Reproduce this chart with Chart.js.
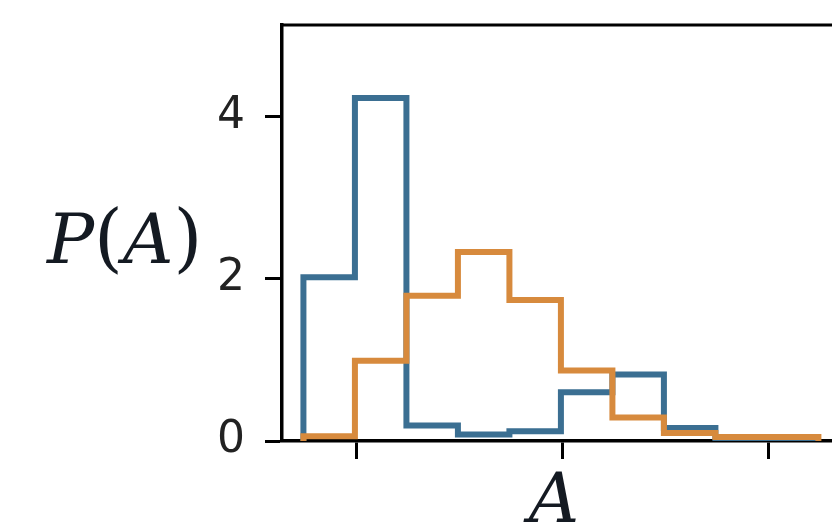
<!DOCTYPE html>
<html>
<head>
<meta charset="utf-8">
<script src="https://cdn.jsdelivr.net/npm/chart.js@4"></script>
<style>
  html, body { margin: 0; padding: 0; background: #fff; overflow: hidden; }
</style>
</head>
<body>
<canvas id="hist" width="832" height="525"></canvas>
<script>
const ctxHist = document.getElementById("hist");

// bordes de los bins (unidad = distancia entre ticks del eje x)
const binEdges = [0.74, 0.99, 1.24, 1.49, 1.74, 1.99, 2.24, 2.49, 2.74, 2.99, 3.24];
// alturas de cada bin (densidad)
const blueHeights = [2.02, 4.23, 0.19, 0.08, 0.12, 0.60, 0.82, 0.16, 0.0, 0.0];
const orangeHeights = [0.06, 0.99, 1.79, 2.33, 1.74, 0.87, 0.29, 0.10, 0.05, 0.05];
const yTicks = [0, 2, 4];
const xTicks = [1, 2, 3];

// convierte alturas a puntos de un histograma tipo "step"
function stepPoints(edges, heights) {
  const pts = [{ x: edges[0], y: 0 }];
  heights.forEach((h, i) => pts.push({ x: edges[i], y: h }));
  pts.push({ x: edges[edges.length - 1], y: 0 });
  return pts;
}

// borde superior del eje + etiquetas P(A) y A
const extras = {
  id: "extras",
  afterDraw(chart) {
    const c = chart.ctx;
    const a = chart.chartArea;
    c.save();
    c.strokeStyle = "#000";
    c.lineWidth = 3;
    c.beginPath();
    c.moveTo(a.left - 1.5, a.top);
    c.lineTo(a.right, a.top);
    c.stroke();

    c.fillStyle = "#141a22";
    c.textAlign = "left";
    c.textBaseline = "alphabetic";
    // P(A) estilo mathtext: letras en cursiva, paréntesis rectos
    const italic = "italic 70px 'DejaVu Serif'";
    const upright = "74px 'DejaVu Serif'";
    const parts = [["P", italic], ["(", upright], ["A", italic], [")", upright]];
    let x = 47;
    parts.forEach(([t, f]) => {
      c.font = f;
      c.fillText(t, x, 263);
      x += c.measureText(t).width;
    });

    c.font = italic;
    c.textAlign = "center";
    c.fillText("A", 554, 522);
    c.restore();
  },
};

const configHist = {
  type: "line",
  data: {
    datasets: [
      {
        label: "orange",
        data: stepPoints(binEdges, orangeHeights),
        borderColor: "#d78a3d",
        borderWidth: 6,
        stepped: true,
        pointRadius: 0,
        fill: false,
        order: 0,
      },
      {
        label: "blue",
        data: stepPoints(binEdges, blueHeights),
        borderColor: "#3b6f92",
        borderWidth: 6,
        stepped: true,
        pointRadius: 0,
        fill: false,
        order: 1,
      },
    ],
  },
  options: {
    responsive: false,
    animation: false,
    devicePixelRatio: 1,
    layout: { padding: { top: 25, left: 0, right: 0, bottom: 0 } },
    scales: {
      x: {
        type: "linear",
        min: 0.636,
        max: 3.306,
        afterFit: (s) => { s.height = 84; s.paddingLeft = 0; s.paddingRight = 0; },
        afterBuildTicks: (s) => { s.ticks = xTicks.map((v) => ({ value: v })); },
        ticks: { callback: () => "" },
        grid: { drawOnChartArea: false, tickLength: 18, tickWidth: 3, tickColor: "#000" },
        border: { color: "#000", width: 3.5 },
      },
      y: {
        min: 0,
        max: 5.13,
        afterFit: (s) => { s.width = 282; s.paddingTop = 0; s.paddingBottom = 0; },
        afterBuildTicks: (s) => { s.ticks = yTicks.map((v) => ({ value: v })); },
        ticks: {
          padding: 20,
          color: "#222",
          font: { family: "'DejaVu Sans'", size: 44 },
        },
        grid: { drawOnChartArea: false, tickLength: 17, tickWidth: 3, tickColor: "#000" },
        border: { color: "#000", width: 3.5 },
      },
    },
    plugins: {
      legend: { display: false },
      tooltip: { enabled: false },
    },
  },
  plugins: [extras],
};

new Chart(ctxHist, configHist);
</script>
</body>
</html>
